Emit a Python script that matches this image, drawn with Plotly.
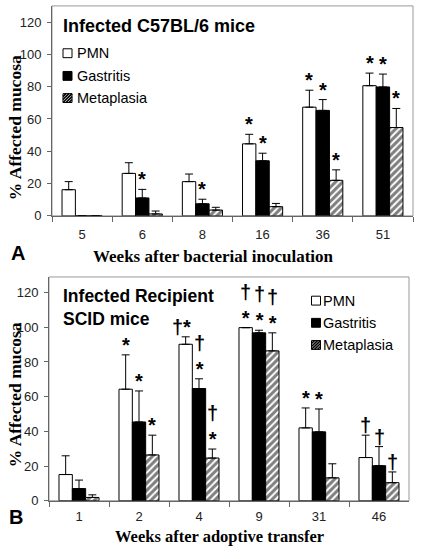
import plotly.graph_objects as go

# ---------------- data ----------------
series_names = ["PMN", "Gastritis", "Metaplasia"]

weeks_a = ["5", "6", "8", "16", "36", "51"]
pmn_a = [16.2, 26.3, 21.2, 44.6, 67.3, 80.6]
pmn_a_sem = [5.0, 6.6, 4.7, 5.9, 10.5, 7.8]
gas_a = [0, 11.1, 7.5, 34.1, 65.3, 79.8]
gas_a_sem = [0, 5.3, 2.8, 4.7, 6.7, 8.0]
met_a = [0, 1.2, 3.6, 5.7, 22.0, 54.7]
met_a_sem = [0, 1.8, 1.7, 2.0, 6.5, 11.8]

weeks_b = ["1", "2", "4", "9", "31", "46"]
pmn_b = [15.1, 64.3, 90.2, 99.8, 42.0, 24.9]
pmn_b_sem = [10.8, 19.8, 4.3, 0, 11.5, 12.9]
gas_b = [7.0, 45.4, 64.7, 96.8, 39.7, 20.2]
gas_b_sem = [4.9, 17.9, 5.6, 1.5, 13.2, 11.0]
met_b = [1.9, 26.4, 24.6, 86.4, 13.2, 10.4]
met_b_sem = [1.5, 11.4, 5.2, 10.4, 8.1, 6.2]

# significance marks: (week, series index, text)
marks_a = [("6", 1, "*"), ("8", 1, "*"), ("16", 0, "*"), ("16", 1, "*"),
           ("36", 0, "*"), ("36", 1, "*"), ("36", 2, "*"),
           ("51", 0, "*"), ("51", 1, "*"), ("51", 2, "*")]
marks_b = [("2", 0, "*"), ("2", 1, "*"), ("2", 2, "*"),
           ("4", 0, "†*"), ("4", 1, "†<br>*"), ("4", 2, "†<br>*"),
           ("9", 0, "†<br>*"), ("9", 1, "†<br>*"), ("9", 2, "†<br>*"),
           ("31", 0, "*"), ("31", 1, "*"),
           ("46", 0, "†"), ("46", 1, "†"), ("46", 2, "†")]

# ---------------- figure ----------------
W, H = 423, 559
SANS = "Liberation Sans, Arial, sans-serif"
SERIF = "Liberation Serif, Times New Roman, serif"

def styles(i):
    if i == 0:
        return dict(color="white", line=dict(color="black", width=1))
    if i == 1:
        return dict(color="black", line=dict(color="black", width=1))
    return dict(color="white", line=dict(color="black", width=1),
                pattern=dict(shape="/", fgcolor="black", bgcolor="white",
                             size=5, solidity=0.6))

fig = go.Figure()
panels = [
    ("x", "y", weeks_a, [pmn_a, gas_a, met_a], [pmn_a_sem, gas_a_sem, met_a_sem]),
    ("x2", "y2", weeks_b, [pmn_b, gas_b, met_b], [pmn_b_sem, gas_b_sem, met_b_sem]),
]
for xa, ya, weeks, vals, sems in panels:
    for i, name in enumerate(series_names):
        fig.add_trace(go.Bar(
            x=weeks, y=vals[i], name=name, xaxis=xa, yaxis=ya,
            showlegend=False,
            marker=styles(i),
            error_y=dict(type="data", symmetric=False, array=sems[i],
                         arrayminus=[0] * len(weeks), color="black",
                         thickness=1, width=4),
        ))

def px_x(p):
    return p / W

def px_y(p):
    return 1 - p / H

axis_common = dict(showline=True, linecolor="#666", linewidth=1,
                   ticks="outside", tickcolor="#666", showgrid=False,
                   zeroline=False, tickfont=dict(family=SANS, size=13, color="#222"))

fig.update_layout(
    width=W, height=H, margin=dict(l=0, r=0, t=0, b=0),
    paper_bgcolor="white", plot_bgcolor="white",
    barmode="group", bargap=0.333, bargroupgap=0,
    showlegend=False,
    xaxis=dict(domain=[px_x(52), px_x(413)], anchor="y", type="category",
               range=[-0.5, 5.5], tickson="boundaries", ticklen=5,
               ticklabelstandoff=7, **axis_common),
    yaxis=dict(domain=[px_y(219), px_y(6)], anchor="x", range=[0, 130],
               tickvals=[0, 20, 40, 60, 80, 100, 120], ticklen=4,
               ticklabelstandoff=3, **axis_common),
    xaxis2=dict(domain=[px_x(49), px_x(409)], anchor="y2", type="category",
                range=[-0.5, 5.5], tickson="boundaries", ticklen=5,
                ticklabelstandoff=4, **axis_common),
    yaxis2=dict(domain=[px_y(508), px_y(281)], anchor="x2", range=[0, 129],
                tickvals=[0, 20, 40, 60, 80, 100, 120], ticklen=4,
                ticklabelstandoff=3, **axis_common),
)

# frame (top/right in light grey)
for xr, yr in [("x domain", "y domain"), ("x2 domain", "y2 domain")]:
    fig.add_shape(type="rect", xref=xr, yref=yr, x0=0, x1=1, y0=0, y1=1,
                  line=dict(color="#999", width=1), layer="below")

# ---- legends (key squares + labels) ----
def legend_block(cx, rows, text_x):
    s = 9.0
    for i, (name, cy) in enumerate(zip(series_names, rows)):
        x0, x1 = cx - s / 2, cx + s / 2
        yt, yb = cy - s / 2, cy + s / 2
        fill = "black" if i == 1 else "white"
        fig.add_shape(type="rect", xref="paper", yref="paper",
                      x0=px_x(x0), x1=px_x(x1), y0=px_y(yb), y1=px_y(yt),
                      fillcolor=fill, line=dict(color="black", width=1))
        if i == 2:
            for c in (-6, -3, 0, 3, 6):
                u0, u1 = max(0, c), min(s, s + c)
                fig.add_shape(type="line", xref="paper", yref="paper",
                              x0=px_x(x0 + u0), y0=px_y(yb - (u0 - c)),
                              x1=px_x(x0 + u1), y1=px_y(yb - (u1 - c)),
                              line=dict(color="black", width=1.6))
        fig.add_annotation(text=name, x=px_x(text_x), y=px_y(cy), xref="paper", yref="paper",
                           showarrow=False, xanchor="left", yanchor="middle",
                           font=dict(family=SANS, size=14.5, color="black"))

legend_block(67.5, [54, 77, 99.5], 75)
legend_block(316, [305, 327.5, 350], 321)

anns = []
# titles inside panels
anns.append(dict(text="<b>Infected C57BL/6 mice</b>", x=px_x(61), y=px_y(26),
                 xanchor="left", yanchor="middle", font=dict(family=SANS, size=18, color="black")))
anns.append(dict(text="<b>Infected Recipient<br>SCID mice</b>", x=px_x(61), y=px_y(312),
                 xanchor="left", yanchor="middle", align="left",
                 font=dict(family=SANS, size=17.5, color="black")))
# panel letters
anns.append(dict(text="<b>A</b>", x=px_x(18), y=px_y(257), xanchor="center", yanchor="middle",
                 font=dict(family=SANS, size=20, color="black")))
anns.append(dict(text="<b>B</b>", x=px_x(16), y=px_y(525), xanchor="center", yanchor="middle",
                 font=dict(family=SANS, size=20, color="black")))
# axis titles
anns.append(dict(text="<b>Weeks after bacterial inoculation</b>", x=px_x(214), y=px_y(260),
                 xanchor="center", yanchor="middle", font=dict(family=SERIF, size=17, color="black")))
anns.append(dict(text="<b>Weeks after adoptive transfer</b>", x=px_x(219), y=px_y(544),
                 xanchor="center", yanchor="middle", font=dict(family=SERIF, size=16.5, color="black")))
anns.append(dict(text="<b>% Affected mucosa</b>", x=px_x(15), y=px_y(130), textangle=-90,
                 xanchor="center", yanchor="middle", font=dict(family=SERIF, size=17.5, color="black")))
anns.append(dict(text="<b>% Affected mucosa</b>", x=px_x(15), y=px_y(401), textangle=-90,
                 xanchor="center", yanchor="middle", font=dict(family=SERIF, size=17.5, color="black")))
for a in anns:
    a.update(xref="paper", yref="paper", showarrow=False)
    fig.add_annotation(**a)

# significance marks above error bars (x given as category index)
bar_w = 13.33
for xa, ya, weeks, vals, sems, marks in [
        ("x", "y", weeks_a, [pmn_a, gas_a, met_a], [pmn_a_sem, gas_a_sem, met_a_sem], marks_a),
        ("x2", "y2", weeks_b, [pmn_b, gas_b, met_b], [pmn_b_sem, gas_b_sem, met_b_sem], marks_b)]:
    for wk, si, txt in marks:
        j = weeks.index(wk)
        top = vals[si][j] + sems[si][j]
        xs = (si - 1) * bar_w - (4 if txt == "†*" else 0)
        fig.add_annotation(x=j, y=top, xref=xa, yref=ya, text="<b>" + txt + "</b>",
                           showarrow=False, xanchor="center", yanchor="bottom",
                           xshift=xs, yshift=-3,
                           font=dict(family=SANS, size=20, color="black"))

# remove the browser's default page margin so the figure sits at the window origin
fig.write_html("out.html", config={"displayModeBar": False},
               post_script="document.body.style.margin='0';")
